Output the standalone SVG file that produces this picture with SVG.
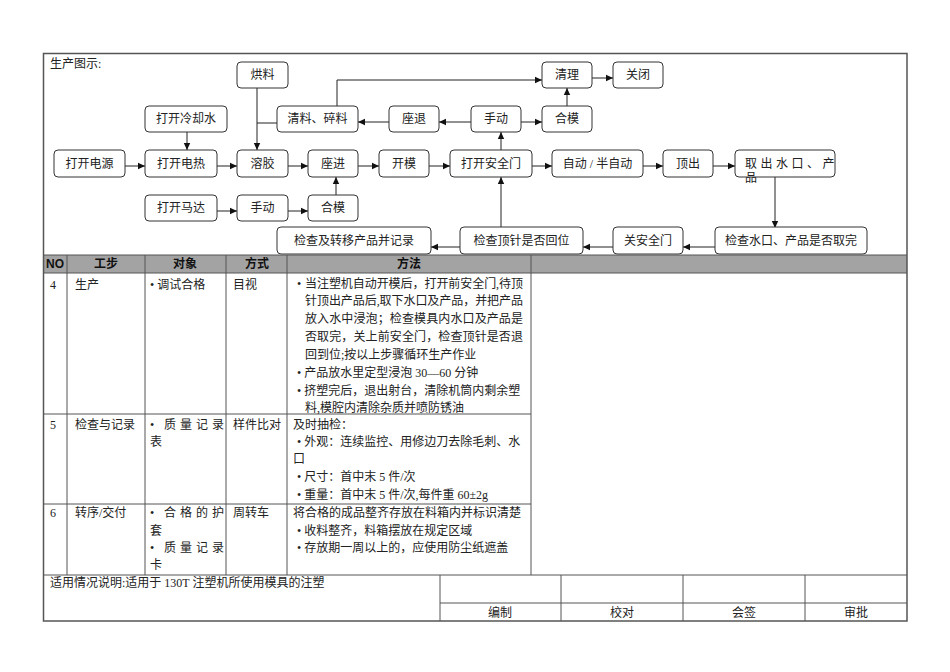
<svg xmlns="http://www.w3.org/2000/svg" width="950" height="672" viewBox="0 0 950 672">
<defs>
<style>
.box{fill:#fff;stroke:#333;stroke-width:1}
.ft{font-family:"Liberation Serif","Noto Sans CJK SC",serif;font-size:12px;fill:#222;text-anchor:middle}
.t{font-family:"Liberation Serif","Noto Sans CJK SC",serif;font-size:12px;fill:#222}
.h{font-family:"Liberation Sans","Noto Sans CJK SC",sans-serif;font-size:12px;font-weight:bold;fill:#111;text-anchor:middle}
.c{fill:none;stroke:#222;stroke-width:1}
.g{fill:none;stroke:#555;stroke-width:1}
</style>
<marker id="a" markerWidth="8" markerHeight="8" refX="7" refY="4" orient="auto" markerUnits="userSpaceOnUse"><path d="M0,0.8 L7,4 L0,7.2Z" fill="#111"/></marker>
</defs>
<rect x="0" y="0" width="950" height="672" fill="#fff"/>

<text class="t" x="50" y="68">生产图示:</text>

<g id="connectors">
<path class="c" marker-end="url(#a)" d="M125,166H145"/>
<path class="c" marker-end="url(#a)" d="M217,166H237"/>
<path class="c" marker-end="url(#a)" d="M288,166H308"/>
<path class="c" marker-end="url(#a)" d="M358,166H379"/>
<path class="c" marker-end="url(#a)" d="M429,166H450"/>
<path class="c" marker-end="url(#a)" d="M532,166H552"/>
<path class="c" marker-end="url(#a)" d="M643,166H663"/>
<path class="c" marker-end="url(#a)" d="M713,166H735"/>
<path class="c" marker-end="url(#a)" d="M775,176V228"/>
<path class="c" marker-end="url(#a)" d="M715,247H683"/>
<path class="c" marker-end="url(#a)" d="M613,247H583"/>
<path class="c" marker-end="url(#a)" d="M460,247H431"/>
<path class="c" marker-end="url(#a)" d="M501,228V177"/>
<path class="c" marker-end="url(#a)" d="M501,150V132"/>
<path class="c" marker-end="url(#a)" d="M471,122H439"/>
<path class="c" marker-end="url(#a)" d="M389,122H358"/>
<path class="c" marker-end="url(#a)" d="M521,122H542"/>
<path class="c" marker-end="url(#a)" d="M567,106V88"/>
<path class="c" marker-end="url(#a)" d="M592,78H613"/>
<path class="c" marker-end="url(#a)" d="M337,106V80H542"/>
<path class="c" d="M277,123H257"/>
<path class="c" marker-end="url(#a)" d="M257,88V150"/>
<path class="c" marker-end="url(#a)" d="M187,132V150"/>
<path class="c" marker-end="url(#a)" d="M217,211H237"/>
<path class="c" marker-end="url(#a)" d="M288,211H308"/>
<path class="c" marker-end="url(#a)" d="M336,195V177"/>
</g>

<g id="n-hongliao"><rect class="box" x="237" y="62" width="51" height="26" rx="4"/><text class="ft" x="262.5" y="79">烘料</text></g>
<g id="n-qingli"><rect class="box" x="542" y="62" width="50" height="26" rx="4"/><text class="ft" x="567" y="79">清理</text></g>
<g id="n-guanbi"><rect class="box" x="613" y="62" width="50" height="26" rx="4"/><text class="ft" x="638" y="79">关闭</text></g>
<g id="n-lengqueshui"><rect class="box" x="145" y="106" width="82" height="26" rx="4"/><text class="ft" x="186" y="123">打开冷却水</text></g>
<g id="n-qingliao"><rect class="box" x="277" y="106" width="81" height="26" rx="4"/><text class="ft" x="317.5" y="123">清料、碎料</text></g>
<g id="n-zuotui"><rect class="box" x="389" y="106" width="50" height="26" rx="4"/><text class="ft" x="414" y="123">座退</text></g>
<g id="n-shoudong1"><rect class="box" x="471" y="106" width="50" height="26" rx="4"/><text class="ft" x="496" y="123">手动</text></g>
<g id="n-hemo1"><rect class="box" x="542" y="106" width="50" height="26" rx="4"/><text class="ft" x="567" y="123">合模</text></g>
<g id="n-dianyuan"><rect class="box" x="54" y="150" width="71" height="27" rx="4"/><text class="ft" x="89.5" y="168">打开电源</text></g>
<g id="n-dianre"><rect class="box" x="145" y="150" width="72" height="27" rx="4"/><text class="ft" x="181" y="168">打开电热</text></g>
<g id="n-rongjiao"><rect class="box" x="237" y="150" width="51" height="27" rx="4"/><text class="ft" x="262.5" y="168">溶胶</text></g>
<g id="n-zuojin"><rect class="box" x="308" y="150" width="50" height="27" rx="4"/><text class="ft" x="333" y="168">座进</text></g>
<g id="n-kaimo"><rect class="box" x="379" y="150" width="50" height="27" rx="4"/><text class="ft" x="404" y="168">开模</text></g>
<g id="n-anquanmen"><rect class="box" x="450" y="150" width="82" height="27" rx="4"/><text class="ft" x="491" y="168">打开安全门</text></g>
<g id="n-zidong"><rect class="box" x="552" y="150" width="91" height="27" rx="4"/><text class="ft" x="597.5" y="168">自动 / 半自动</text></g>
<g id="n-dingchu"><rect class="box" x="663" y="150" width="50" height="27" rx="4"/><text class="ft" x="688" y="168">顶出</text></g>
<g id="n-quchu"><rect class="box" x="735" y="150" width="100" height="27" rx="4"/><text class="t" x="745" y="168" letter-spacing="3.5">取出水口、产</text><text class="t" x="745" y="182">品</text></g>
<g id="n-mada"><rect class="box" x="145" y="195" width="72" height="26" rx="4"/><text class="ft" x="181" y="212">打开马达</text></g>
<g id="n-shoudong2"><rect class="box" x="237" y="195" width="51" height="26" rx="4"/><text class="ft" x="262.5" y="212">手动</text></g>
<g id="n-hemo2"><rect class="box" x="308" y="195" width="50" height="26" rx="4"/><text class="ft" x="333" y="212">合模</text></g>
<g id="n-jiancha1"><rect class="box" x="277" y="227" width="154" height="27" rx="4"/><text class="ft" x="354" y="245">检查及转移产品并记录</text></g>
<g id="n-dingzhen"><rect class="box" x="460" y="227" width="123" height="27" rx="4"/><text class="ft" x="521.5" y="245">检查顶针是否回位</text></g>
<g id="n-guanmen"><rect class="box" x="613" y="227" width="70" height="27" rx="4"/><text class="ft" x="648" y="245">关安全门</text></g>
<g id="n-shuikou"><rect class="box" x="715" y="227" width="152" height="27" rx="4"/><text class="ft" x="791" y="245">检查水口、产品是否取完</text></g>

<g id="table">
<rect x="43" y="255" width="864" height="18" fill="#a3a3a3"/>
<path class="g" d="M43,255H907M43,273H907M43,414H531M43,504H531M43,575H907"/>
<path class="g" d="M67,255V575M145,255V575M226,255V575M287,255V575M531,255V575"/>
<path class="g" d="M440,575V621M561,575V621M683,575V621M805,575V621M440,603H907"/>
<text class="h" x="55" y="268" font-size="11">NO</text>
<text class="h" x="106" y="268">工步</text>
<text class="h" x="185" y="268">对象</text>
<text class="h" x="257" y="268">方式</text>
<text class="h" x="409" y="268">方法</text>

<text class="t" x="50" y="289">4</text>
<text class="t" x="75" y="289">生产</text>
<text class="t" x="150" y="289">• 调试合格</text>
<text class="t" x="233" y="289">目视</text>
<text class="t" x="297" y="288">•</text>
<text class="t" x="305" y="288" textLength="218" lengthAdjust="spacing">当注塑机自动开模后，打开前安全门,待顶</text>
<text class="t" x="305" y="305" textLength="218" lengthAdjust="spacing">针顶出产品后,取下水口及产品，并把产品</text>
<text class="t" x="305" y="323" textLength="218" lengthAdjust="spacing">放入水中浸泡；检查模具内水口及产品是</text>
<text class="t" x="305" y="341" textLength="218" lengthAdjust="spacing">否取完，关上前安全门，检查顶针是否退</text>
<text class="t" x="305" y="359">回到位;按以上步骤循环生产作业</text>
<text class="t" x="297" y="377">• 产品放水里定型浸泡 30—60 分钟</text>
<text class="t" x="297" y="395">• 挤塑完后，退出射台，清除机筒内剩余塑</text>
<text class="t" x="305" y="412">料,模腔内清除杂质并喷防锈油</text>

<text class="t" x="50" y="429">5</text>
<text class="t" x="75" y="429">检查与记录</text>
<text class="t" x="150" y="429">•</text><text class="t" x="164" y="429" letter-spacing="4">质量记录</text>
<text class="t" x="150" y="446">表</text>
<text class="t" x="233" y="429">样件比对</text>
<text class="t" x="293" y="429">及时抽检：</text>
<text class="t" x="297" y="446">• 外观：连续监控、用修边刀去除毛刺、水</text>
<text class="t" x="293" y="463">口</text>
<text class="t" x="297" y="481">• 尺寸：首中末 5 件/次</text>
<text class="t" x="297" y="499">• 重量：首中末 5 件/次,每件重 60±2g</text>

<text class="t" x="50" y="517">6</text>
<text class="t" x="75" y="517">转序/交付</text>
<text class="t" x="150" y="517">•</text><text class="t" x="164" y="517" letter-spacing="4">合格的护</text>
<text class="t" x="150" y="535">套</text>
<text class="t" x="150" y="552">•</text><text class="t" x="164" y="552" letter-spacing="4">质量记录</text>
<text class="t" x="150" y="569">卡</text>
<text class="t" x="233" y="517">周转车</text>
<text class="t" x="293" y="517">将合格的成品整齐存放在料箱内并标识清楚</text>
<text class="t" x="297" y="535">• 收料整齐，料箱摆放在规定区域</text>
<text class="t" x="297" y="552">• 存放期一周以上的，应使用防尘纸遮盖</text>

<text class="t" x="50" y="587">适用情况说明:适用于 130T 注塑机所使用模具的注塑</text>
<text class="ft" x="500" y="617">编制</text>
<text class="ft" x="622" y="617">校对</text>
<text class="ft" x="744" y="617">会签</text>
<text class="ft" x="856" y="617">审批</text>
</g>
<rect x="43.5" y="53.5" width="863.5" height="567.5" fill="none" stroke="#555" stroke-width="1.5"/>
</svg>
